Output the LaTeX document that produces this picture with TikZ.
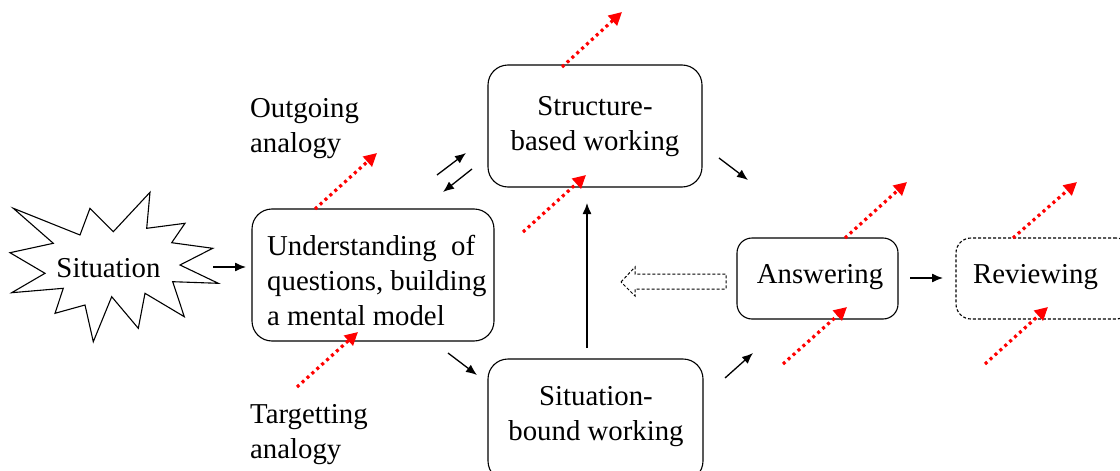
\documentclass[tikz,border=0pt]{standalone}
\usepackage{fontspec}
\setmainfont{Liberation Serif}
\usetikzlibrary{arrows.meta}
\begin{document}
\begin{tikzpicture}[x=1pt,y=-1pt,
  txt/.style={inner sep=0pt,align=center,font=\fontsize{28.8}{35}\selectfont},
  box/.style={draw,line width=1.1pt,rounded corners=20pt,inner sep=0pt},
  blk/.style={line width=1.3pt,-{Latex[length=11pt,width=9pt]}},
  redarr/.style={draw=red,line width=3.2pt,dash pattern=on 3pt off 3.6pt,-{Triangle[length=13pt,width=13pt]}}]
\useasboundingbox (0,0) rectangle (1120,471);
% starburst
\draw[line width=1.1pt,line join=miter] (13.3,208.3) -- (80,235) -- (90,208.3) -- (113.3,231.7) -- (150,192.3) -- (146.7,228.3) -- (185,223.3) -- (171.7,242.7) -- (212.7,248.3) -- (180,265) -- (218.3,283.3) -- (172.7,281.7) -- (184.3,316.7) -- (145,293.3) -- (138.3,328.3) -- (111.7,296.7) -- (93.3,341.7) -- (85,305) -- (55,313.3) -- (63.3,288.3) -- (11.7,292.7) -- (45,273.3) -- (10,252.7) -- (53.3,243.3) -- cycle;
\node[txt] (sit) at (108.5,268) {Situation};
% boxes
\node[box,minimum width=242pt,minimum height=132pt] (under) at (373,275) {};
\node[txt,align=left,anchor=north west] (undertext) at (267,235) {Understanding\ \ of\\questions, building\\a mental model};
\node[box,minimum width=214pt,minimum height=122pt] (struct) at (595,126) {};
\node[txt] (structtext) at (595,127) {Structure-\\based working};
\node[box,minimum width=215pt,minimum height=122pt] (sb) at (595.5,420) {};
\node[txt] (sbtext) at (596,417) {Situation-\\bound working};
\node[box,rounded corners=15pt,minimum width=161pt,minimum height=81pt] (ans) at (817.5,278.5) {};
\node[txt] (anstext) at (820,277) {Answering};
\node[box,dashed,dash pattern=on 3pt off 2pt,rounded corners=15pt,minimum width=175pt,minimum height=81pt] (rev) at (1043.5,278.5) {};
\node[txt] (revtext) at (1035.5,277) {Reviewing};
% labels
\node[txt,align=left,anchor=north west] (outg) at (250,98) {Outgoing\\analogy};
\node[txt,align=left,anchor=north west] (targ) at (250,404) {Targetting\\analogy};
% black arrows
\coordinate (a1) at (213,267); \coordinate (a2) at (246,267);
\coordinate (b1) at (437,175); \coordinate (b2) at (466,153);
\coordinate (c1) at (472,169); \coordinate (c2) at (443,192);
\coordinate (d1) at (719,158); \coordinate (d2) at (748,180);
\coordinate (e1) at (448,353); \coordinate (e2) at (477,375);
\coordinate (f1) at (725,378); \coordinate (f2) at (753,353);
\coordinate (g1) at (587,348); \coordinate (g2) at (587,203);
\coordinate (h1) at (910,278); \coordinate (h2) at (943,278);
\foreach \p in {a,b,c,d,e,f,g,h} \draw[blk] (\p1) -- (\p2);
% hollow dashed arrow
\draw[line width=1pt,dash pattern=on 3pt off 2pt] (621,282) -- (635,267) -- (635,274) -- (726,274) -- (726,289) -- (635,289) -- (635,296) -- cycle;
% red arrows
\coordinate (r1s) at (562,67);  \coordinate (r1e) at (622,12);
\coordinate (r2s) at (315,209); \coordinate (r2e) at (377,153);
\coordinate (r3s) at (523,232); \coordinate (r3e) at (586,175);
\coordinate (r4s) at (297,387); \coordinate (r4e) at (358,332);
\coordinate (r5s) at (845,238); \coordinate (r5e) at (907,182);
\coordinate (r6s) at (783,364); \coordinate (r6e) at (847,307);
\coordinate (r7s) at (1013,238); \coordinate (r7e) at (1077,182);
\coordinate (r8s) at (985,364); \coordinate (r8e) at (1048,307);
\foreach \i in {1,...,8} \draw[redarr] (r\i s) -- (r\i e);
\end{tikzpicture}
\end{document}
